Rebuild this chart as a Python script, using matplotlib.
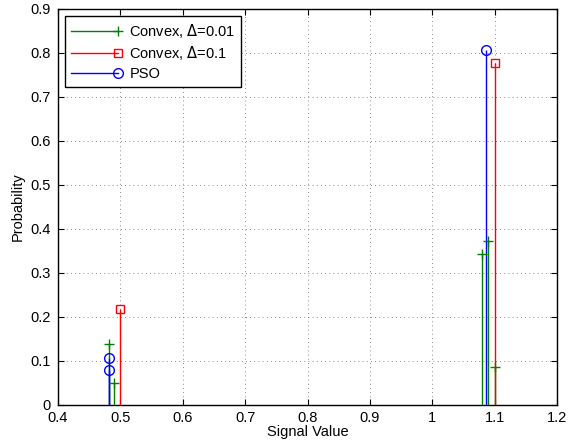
import matplotlib
matplotlib.use("Agg")
import numpy as np
import matplotlib.pyplot as plt
from matplotlib.legend_handler import HandlerLine2D
from matplotlib.lines import Line2D

plt.rcParams['font.family'] = ['Liberation Sans', 'DejaVu Sans']

# data
convex_001_x = [0.481, 0.49, 1.08, 1.09, 1.10]
convex_001_p = [0.139, 0.049, 0.343, 0.373, 0.087]
convex_01_x = [0.50, 1.10]
convex_01_p = [0.217, 0.778]
pso_x = [0.481, 0.481, 1.086]
pso_p = [0.107, 0.080, 0.807]

labels = ["Convex, $\\Delta$=0.01", "Convex, $\\Delta$=0.1", "PSO"]
x_ticks = [0.4, 0.5, 0.6, 0.7, 0.8, 0.9, 1, 1.1, 1.2]
x_ticklabels = ["0.4", "0.5", "0.6", "0.7", "0.8", "0.9", "1", "1.1", "1.2"]
y_ticks = [0, 0.1, 0.2, 0.3, 0.4, 0.5, 0.6, 0.7, 0.8, 0.9]


class RightMarkerHandler(HandlerLine2D):
    # MATLAB-style stem legend: marker at the right end of the line
    def create_artists(self, legend, orig_handle, xdescent, ydescent,
                       width, height, fontsize, trans):
        arts = super().create_artists(legend, orig_handle, xdescent, ydescent,
                                      width, height, fontsize, trans)
        for a in arts:
            if isinstance(a, Line2D):
                a.set_markevery([len(a.get_xdata()) - 1])
        return arts


fig = plt.figure(figsize=(5.69, 4.45), dpi=100)
ax = fig.add_axes([0.102, 0.09, 0.877, 0.89])

series = [
    (convex_001_x, convex_001_p, "#008000", "+", 7),
    (convex_01_x, convex_01_p, "#ff0000", "s", 6),
    (pso_x, pso_p, "#0000ff", "o", 7),
]
handles = []
for (xs, ps, col, mk, ms), lab in zip(series, labels):
    ax.vlines(xs, 0, ps, colors=col, linewidth=1.0, zorder=3)
    ax.plot(xs, ps, linestyle="none", marker=mk, color=col, markersize=ms,
            markerfacecolor="none", markeredgecolor=col, markeredgewidth=1.0, zorder=4)
    handles.append(Line2D([0, 1], [0, 0], color=col, linewidth=1.0, marker=mk,
                          markersize=ms, markerfacecolor="none",
                          markeredgecolor=col, markeredgewidth=1.0))

ax.set_xlim(0.4, 1.2)
ax.set_ylim(0, 0.9)
ax.set_xticks(x_ticks)
ax.set_xticklabels(x_ticklabels)
ax.set_yticks(y_ticks)
ax.set_yticklabels([f"{v:g}" for v in y_ticks])
ax.tick_params(direction="in", top=True, right=True, labelsize=10.5, length=4, width=0.8)
ax.tick_params(axis="x", pad=4)
ax.tick_params(axis="y", pad=5)
ax.grid(True, linestyle=(0, (1, 4)), color="#666666", linewidth=0.6)
ax.set_axisbelow(True)
for s in ax.spines.values():
    s.set_linewidth(1.0)
ax.set_xlabel("Signal Value", fontsize=10.5, labelpad=0)
ax.set_ylabel("Probability", fontsize=10.5, labelpad=4)

leg = ax.legend(handles, labels, loc="upper left", fontsize=10.5, numpoints=1,
                handler_map={Line2D: RightMarkerHandler()},
                fancybox=False, framealpha=1, edgecolor="black",
                borderaxespad=0.5, handlelength=3.2, labelspacing=0.3,
                bbox_to_anchor=(0.0, 1.0))
leg.get_frame().set_linewidth(1.0)

fig.savefig("out.png", dpi=100)
